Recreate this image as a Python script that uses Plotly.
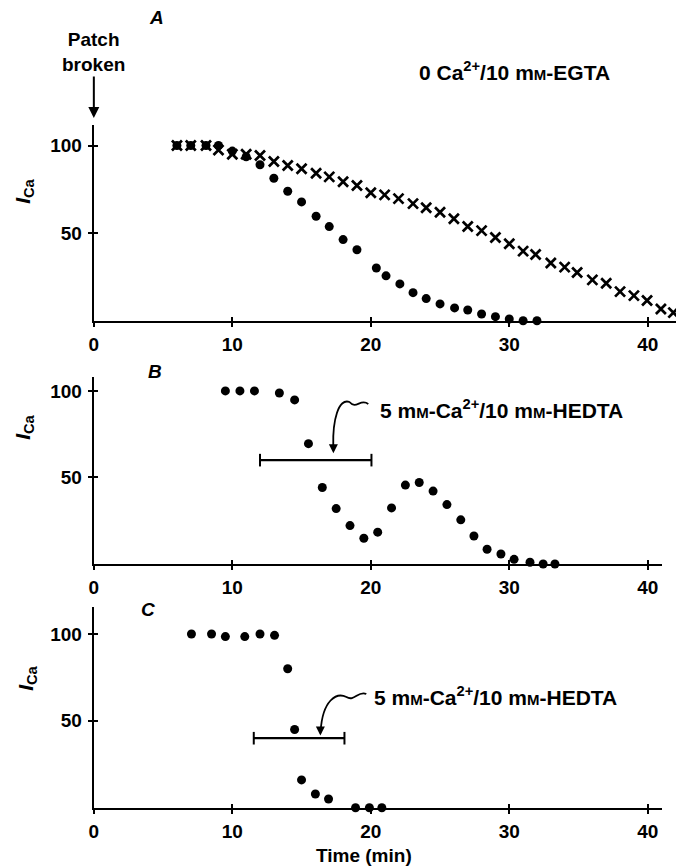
import plotly.graph_objects as go

# ---------------- data ----------------
# Panel A : 0 Ca2+/10 mM-EGTA
A_t_dot = [6.0, 7.0, 8.1, 9.0, 10.0, 11.0, 12.0, 13.0, 14.0, 15.0, 16.05, 17.0, 18.0, 19.0,
           20.4, 21.1, 22.1, 23.05, 24.0, 25.0, 26.05, 27.0, 28.0, 29.0, 30.0, 31.0, 32.0]
A_v_dot = [100, 100, 100, 100, 96.8, 93.6, 89, 81.3, 73.9, 67.8, 59.6, 53.7, 46.3, 40.5,
           30.1, 25.6, 21.0, 16.0, 12.6, 9.6, 7.3, 6.1, 3.8, 2.3, 1.0, 0, 0]
A_t_cross = [6.0, 7.0, 8.1, 9.0, 10.0, 11.0, 12.0, 13.0, 14.0, 15.0, 16.05, 17.0, 18.0, 19.0,
             20.0, 21.0, 22.0, 23.05, 24.0, 25.0, 26.0, 27.0, 28.0, 29.0, 30.0, 31.0, 31.9,
             33.0, 34.0, 34.9, 36.0, 37.0, 38.0, 39.0, 39.95, 40.95, 41.85]
A_v_cross = [100, 100, 100, 97.4, 95, 95, 94.3, 90.9, 88.6, 86.7, 84.2, 82.1, 79.3, 77.2,
             73.0, 71.8, 69.7, 66.8, 64.5, 61.9, 58.2, 53.8, 51.4, 47.5, 43.9, 39.7, 37.8,
             32.9, 30.6, 27.5, 23.3, 21.4, 16.6, 14.3, 11.5, 6.7, 4.6]

# Panel B
B_t = [9.5, 10.55, 11.6, 13.4, 14.5, 15.5, 16.5, 17.5, 18.5, 19.5, 20.5, 21.5, 22.5, 23.5,
       24.5, 25.5, 26.5, 27.45, 28.4, 29.4, 30.35, 31.5, 32.45, 33.3]
B_v = [100, 100, 100, 98.8, 94.8, 69.5, 44.2, 32.0, 22.2, 14.9, 18.4, 32.4, 45.6, 47.1,
       42.1, 34.3, 25.5, 16.2, 8.5, 5.8, 2.7, 1.0, 0, 0]
B_bar_t = [12.0, 20.05]
B_bar_v = [60, 60]

# Panel C
C_t = [7.05, 8.5, 9.5, 10.9, 12.0, 13.05, 14.0, 14.5, 15.0, 16.0, 16.95, 18.9, 19.9, 20.8]
C_v = [100, 100, 98.5, 98.5, 100, 99.2, 80, 45, 16, 7.9, 5.0, 0, 0, 0]
C_bar_t = [11.55, 18.1]
C_bar_v = [40, 40]

x_ticks = [0, 10, 20, 30, 40]
x_ticklabels = ["0", "10", "20", "30", "40"]
y_ticks = [50, 100]
y_ticklabels = ["50", "100"]

# ---------------- figure ----------------
W, H = 676, 866
FONT = "Liberation Sans, Arial, Helvetica, sans-serif"
BLACK = "#000000"
WEIGHT = "bold"

fig = go.Figure()

dot = dict(symbol="circle", size=9, color=BLACK)
cross = dict(symbol="x-thin", size=10, color=BLACK, line=dict(color=BLACK, width=2.7))

fig.add_trace(go.Scatter(x=A_t_cross, y=A_v_cross, mode="markers", marker=cross,
                         xaxis="x", yaxis="y", cliponaxis=False, showlegend=False))
fig.add_trace(go.Scatter(x=A_t_dot, y=A_v_dot, mode="markers", marker=dot,
                         xaxis="x", yaxis="y", cliponaxis=False, showlegend=False))
fig.add_trace(go.Scatter(x=B_t, y=B_v, mode="markers", marker=dot,
                         xaxis="x2", yaxis="y2", cliponaxis=False, showlegend=False))
fig.add_trace(go.Scatter(x=C_t, y=C_v, mode="markers", marker=dot,
                         xaxis="x3", yaxis="y3", cliponaxis=False, showlegend=False))

bar_marker = dict(symbol="line-ns", size=9, color=BLACK, line=dict(color=BLACK, width=2))
fig.add_trace(go.Scatter(x=B_bar_t, y=B_bar_v, mode="lines+markers", marker=bar_marker,
                         line=dict(color=BLACK, width=2.2), xaxis="x2", yaxis="y2",
                         cliponaxis=False, showlegend=False))
fig.add_trace(go.Scatter(x=C_bar_t, y=C_bar_v, mode="lines+markers", marker=bar_marker,
                         line=dict(color=BLACK, width=2.2), xaxis="x3", yaxis="y3",
                         cliponaxis=False, showlegend=False))

# empty traces for overlay axes that carry the inner halves of the crossing ticks
for i in (4, 5, 6):
    fig.add_trace(go.Scatter(x=[None], y=[None], xaxis=f"x{i}", yaxis=f"y{i}",
                             showlegend=False, hoverinfo="skip"))

X0 = 89.5 / W
panels = {
    1: dict(xdom=[X0, 1.0], xr=[0, 42.04], ydom=[1 - 320.7 / H, 1 - 125 / H], yr=[0, 111.7]),
    2: dict(xdom=[X0, 662 / W], xr=[0, 41.04], ydom=[1 - 564 / H, 1 - 376.7 / H], yr=[0, 108.2]),
    3: dict(xdom=[X0, 662 / W], xr=[0, 41.04], ydom=[1 - 807.7 / H, 1 - 606.7 / H], yr=[0, 115.7]),
}

tickfont = dict(family=FONT, size=19, color=BLACK, weight=WEIGHT)
layout_axes = {}
for i, p in panels.items():
    xs = "" if i == 1 else str(i)
    layout_axes[f"xaxis{xs}"] = dict(
        domain=p["xdom"], range=p["xr"], anchor=f"y{xs}", showgrid=False, zeroline=False,
        showline=True, linecolor=BLACK, linewidth=2.2, ticks="outside", ticklen=4,
        tickwidth=1.6, tickcolor=BLACK, tickvals=x_ticks, ticktext=x_ticklabels,
        tickfont=tickfont, ticklabelstandoff=1)
    layout_axes[f"yaxis{xs}"] = dict(
        domain=p["ydom"], range=p["yr"], anchor=f"x{xs}", showgrid=False, zeroline=False,
        showline=True, linecolor=BLACK, linewidth=2.2, ticks="outside", ticklen=4,
        tickwidth=1.6, tickcolor=BLACK, tickvals=y_ticks, ticktext=y_ticklabels,
        tickfont=tickfont, ticklabelstandoff=2)
    j = i + 3
    layout_axes[f"xaxis{j}"] = dict(
        overlaying=f"x{xs}", range=p["xr"], anchor=f"y{j}", showgrid=False, zeroline=False,
        showline=False, ticks="inside", ticklen=4, tickwidth=1.6, tickcolor=BLACK,
        tickvals=x_ticks, showticklabels=False)
    layout_axes[f"yaxis{j}"] = dict(
        overlaying=f"y{xs}", range=p["yr"], anchor=f"x{j}", showgrid=False, zeroline=False,
        showline=False, ticks="inside", ticklen=4, tickwidth=1.6, tickcolor=BLACK,
        tickvals=y_ticks, showticklabels=False)

fig.update_layout(
    width=W, height=H, margin=dict(l=0, r=0, t=0, b=0),
    paper_bgcolor="white", plot_bgcolor="rgba(0,0,0,0)",
    font=dict(family=FONT, size=19, color=BLACK),
    showlegend=False,
    **layout_axes,
)

mm = "m<span style='font-size:15px'>M</span>"
ann = []
txt = dict(family=FONT, size=19, color=BLACK, weight=WEIGHT)
cond = dict(family=FONT, size=21, color=BLACK, weight=WEIGHT)
# panel letters
for lab, px, py in (("A", 153, 17), ("B", 151, 371), ("C", 144, 609)):
    ann.append(dict(text=f"<i>{lab}</i>", x=px / W, y=1 - py / H, xref="paper", yref="paper",
                    showarrow=False, xanchor="center", yanchor="middle",
                    font=dict(family=FONT, size=19, color=BLACK, weight=WEIGHT)))
# y-axis titles
for py, px in ((191, 19), (427, 19), (678, 22)):
    ann.append(dict(text="<i>I</i><sub>Ca</sub>", x=px / W, y=1 - py / H, xref="paper",
                    yref="paper", textangle=-90, showarrow=False, xanchor="center",
                    yanchor="middle", font=dict(family=FONT, size=21, color=BLACK, weight=WEIGHT)))
# x-axis title
ann.append(dict(text="Time (min)", x=362 / W, y=1 - 855 / H, xref="paper", yref="paper",
                showarrow=False, xanchor="center", yanchor="middle", font=txt))
# condition labels
ann.append(dict(text=f"0 Ca<sup>2+</sup>/10 {mm}-EGTA", x=415 / W, y=1 - 71 / H,
                xref="paper", yref="paper", showarrow=False, xanchor="left",
                yanchor="middle", font=cond))
ann.append(dict(text=f"5 {mm}-Ca<sup>2+</sup>/10 {mm}-HEDTA", x=376 / W, y=1 - 409 / H,
                xref="paper", yref="paper", showarrow=False, xanchor="left",
                yanchor="middle", font=cond))
ann.append(dict(text=f"5 {mm}-Ca<sup>2+</sup>/10 {mm}-HEDTA", x=370 / W, y=1 - 696 / H,
                xref="paper", yref="paper", showarrow=False, xanchor="left",
                yanchor="middle", font=cond))
# Patch broken
ann.append(dict(text="Patch<br>broken", x=0, y=1 - 118 / H, xref="x", yref="paper",
                ax=0, ay=-66, showarrow=True, arrowhead=2, arrowsize=1.1, arrowwidth=2,
                arrowcolor=BLACK, font=txt, align="center"))
# arrowheads of squiggle pointers
ann.append(dict(text="", x=17.3, y=64, xref="x2", yref="y2", ax=0, ay=-10,
                showarrow=True, arrowhead=2, arrowsize=1, arrowwidth=1.8, arrowcolor=BLACK))
ann.append(dict(text="", x=16.36, y=41.5, xref="x3", yref="y3", ax=0, ay=-10,
                showarrow=True, arrowhead=2, arrowsize=1, arrowwidth=1.8, arrowcolor=BLACK))
fig.update_layout(annotations=ann)

# squiggle pointer curves (paper pixel space)
def P(x, y):
    return f"{x / W:.5f},{1 - y / H:.5f}"

path_b = (f"M {P(366, 404)} C {P(358, 398)} {P(354, 410)} {P(347, 402)} "
          f"C {P(336, 398)} {P(330, 420)} {P(330.7, 446)}")
path_c = (f"M {P(364, 694)} C {P(356, 690)} {P(352, 702)} {P(344, 697)} "
          f"C {P(334, 692)} {P(320, 700)} {P(318, 731)}")
shapes = [dict(type="path", path=path_b, xref="paper", yref="paper",
               line=dict(color=BLACK, width=1.8)),
          dict(type="path", path=path_c, xref="paper", yref="paper",
               line=dict(color=BLACK, width=1.8))]
fig.update_layout(shapes=shapes)

fig.write_html("out.html")
